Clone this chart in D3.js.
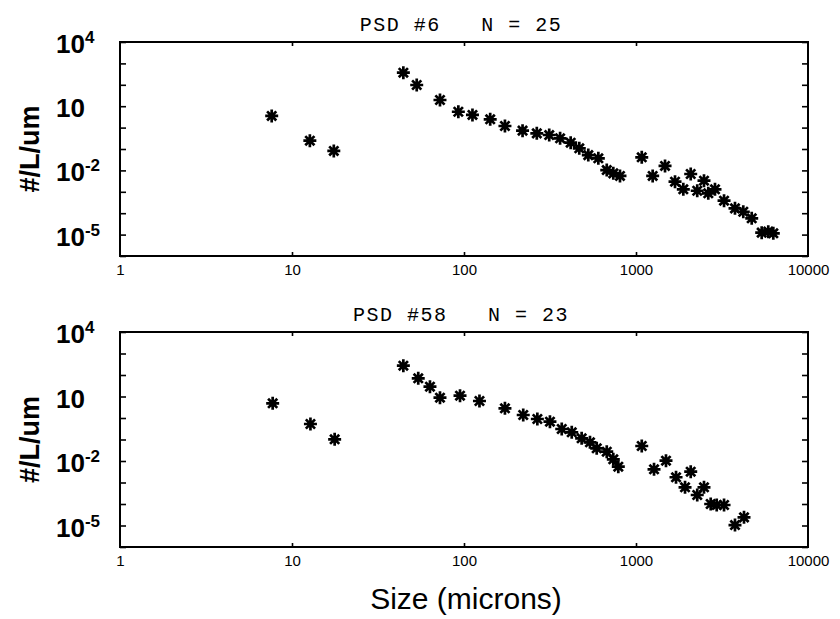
<!DOCTYPE html>
<html>
<head>
<meta charset="utf-8">
<script src="https://cdn.jsdelivr.net/npm/d3@7"></script>
<style>
  html, body { margin: 0; padding: 0; background: #fff; }
  svg { display: block; }
</style>
</head>
<body>
<svg id="chart" width="840" height="619"></svg>
<script>
// Particle size distributions: size (microns) vs concentration (#/L/um)
const sizesPSD6 = [7.62, 12.7, 17.5, 44.4, 53.1, 72.5, 92.7, 112, 142, 173, 219, 265, 313, 362, 417, 468, 528, 604, 676, 738, 807,
  1080, 1250, 1475, 1686, 1884, 2080, 2270, 2485, 2632, 2879, 3250, 3763, 4205, 4707, 5380, 5875, 6285];
const countsPSD6 = [3.5, 0.244, 0.081, 367, 98, 19.5, 5.5, 3.9, 2.44, 1.19, 0.72, 0.54, 0.45, 0.316, 0.197, 0.108, 0.052, 0.0367, 0.0104, 0.0073, 0.0055,
  0.041, 0.0055, 0.0161, 0.00297, 0.00131, 0.0068, 0.00112, 0.0033, 0.00085, 0.00131, 0.000384, 0.000169, 0.000117, 0.0000578, 0.0000123, 0.0000137, 0.0000115];

const sizesPSD58 = [7.72, 12.8, 17.7, 44.4, 54.2, 63.4, 72.5, 94.8, 123, 173, 221, 267, 316, 370, 423, 483, 540, 591, 676, 738, 789,
  1080, 1273, 1494, 1709, 1928, 2080, 2270, 2485, 2718, 2946, 3250, 3763, 4246];
const countsPSD58 = [4.83, 0.526, 0.102, 271, 70.3, 28.6, 8.8, 10.9, 6.18, 2.83, 1.38, 0.898, 0.673, 0.308, 0.216, 0.114, 0.074, 0.039, 0.0271, 0.012, 0.00543,
  0.0499, 0.00411, 0.0103, 0.00175, 0.000598, 0.00318, 0.000262, 0.000598, 0.0001, 0.0000898, 0.0000898, 0.0000105, 0.000024];

const panelNames = ["PSD #6", "PSD #58"];
const panelN = [25, 23];
const xTickValues = [1, 10, 100, 1000, 10000];
const xTickLabels = ["1", "10", "100", "1000", "10000"];
const yLabelExponents = [4, 1, -2, -5];
const yTickExponents = [-6, -5, -4, -3, -2, -1, 0, 1, 2, 3, 4];

const panels = [
  { name: panelNames[0], n: panelN[0], sizes: sizesPSD6, counts: countsPSD6, top: 42, bottom: 256 },
  { name: panelNames[1], n: panelN[1], sizes: sizesPSD58, counts: countsPSD58, top: 332, bottom: 547 }
];

const svg = d3.select("#chart");
const left = 120, right = 808;
const x = d3.scaleLog().domain([1, 10000]).range([left, right]);

function asteriskPath(r) {
  let p = "";
  for (let k = 0; k < 4; k++) {
    const a = k * Math.PI / 4;
    const dx = r * Math.cos(a), dy = r * Math.sin(a);
    p += `M${(-dx).toFixed(2)},${(-dy).toFixed(2)}L${dx.toFixed(2)},${dy.toFixed(2)}`;
  }
  return p;
}
const star = asteriskPath(6.5);

panels.forEach(p => {
  const y = d3.scaleLog().domain([1e-6, 1e4]).range([p.bottom, p.top]);
  const g = svg.append("g");
  const yTicks = yTickExponents.map(e => Math.pow(10, e));

  // inward ticks on all four sides
  const tickStyle = sel => {
    sel.select(".domain").remove();
    sel.selectAll(".tick line").attr("stroke", "#000").attr("stroke-width", 1.6);
    sel.selectAll(".tick text").remove();
  };
  g.append("g").attr("transform", `translate(0,${p.bottom})`)
    .call(d3.axisBottom(x).tickValues([10, 100, 1000]).tickSize(-4)).call(tickStyle);
  g.append("g").attr("transform", `translate(0,${p.top})`)
    .call(d3.axisTop(x).tickValues([10, 100, 1000]).tickSize(-4)).call(tickStyle);
  g.append("g").attr("transform", `translate(${left},0)`)
    .call(d3.axisLeft(y).tickValues(yTicks).tickSize(-6)).call(tickStyle);
  g.append("g").attr("transform", `translate(${right},0)`)
    .call(d3.axisRight(y).tickValues(yTicks).tickSize(-6)).call(tickStyle);

  // frame
  g.append("rect")
    .attr("x", left).attr("y", p.top)
    .attr("width", right - left).attr("height", p.bottom - p.top)
    .attr("fill", "none").attr("stroke", "#000").attr("stroke-width", 2);

  // x tick labels
  const xl = g.append("g").attr("transform", `translate(0,${p.bottom})`)
    .call(d3.axisBottom(x).tickValues(xTickValues).tickSize(0).tickPadding(8)
      .tickFormat((d, i) => xTickLabels[i]));
  xl.select(".domain").remove();
  xl.selectAll("text").attr("font-family", "Liberation Sans, Arial, sans-serif")
    .attr("font-size", 15).attr("fill", "#000");

  // y tick labels as powers of ten
  yLabelExponents.forEach(e => {
    const t = g.append("text")
      .attr("x", 56).attr("y", y(Math.pow(10, e)) + 11)
      .attr("font-family", "Liberation Sans, Arial, sans-serif")
      .attr("font-weight", "bold").attr("font-size", 26).attr("fill", "#000");
    t.append("tspan").text("10");
    if (e !== 1) {
      t.append("tspan").attr("font-size", 17).attr("dy", -10).text(String(e));
    }
  });

  // y axis title
  const cy = (p.top + p.bottom) / 2;
  g.append("text")
    .attr("transform", `translate(30,${cy}) rotate(-90)`)
    .attr("text-anchor", "middle").attr("dominant-baseline", "central")
    .attr("font-family", "Liberation Sans, Arial, sans-serif")
    .attr("font-weight", "bold").attr("font-size", 27).attr("fill", "#000")
    .text("#/L/um");

  // panel title
  g.append("text")
    .attr("x", 461).attr("y", p.top - 11)
    .attr("text-anchor", "middle")
    .attr("font-family", "Liberation Mono, DejaVu Sans Mono, monospace")
    .attr("font-size", 20).attr("letter-spacing", 1.5).attr("fill", "#000")
    .style("white-space", "pre")
    .text(`${p.name}   N = ${p.n}`);

  // data points
  const pts = p.sizes.map((s, i) => ({ s, c: p.counts[i] }));
  g.append("g").selectAll("path").data(pts).join("path")
    .attr("transform", d => `translate(${x(d.s)},${y(d.c)})`)
    .attr("d", star)
    .attr("fill", "none").attr("stroke", "#000").attr("stroke-width", 2.7)
    .attr("stroke-linecap", "butt");
});

// x axis title
svg.append("text")
  .attr("x", 466).attr("y", 609)
  .attr("text-anchor", "middle")
  .attr("font-family", "Liberation Sans, Arial, sans-serif")
  .attr("font-size", 30).attr("fill", "#000")
  .text("Size (microns)");
</script>
</body>
</html>
